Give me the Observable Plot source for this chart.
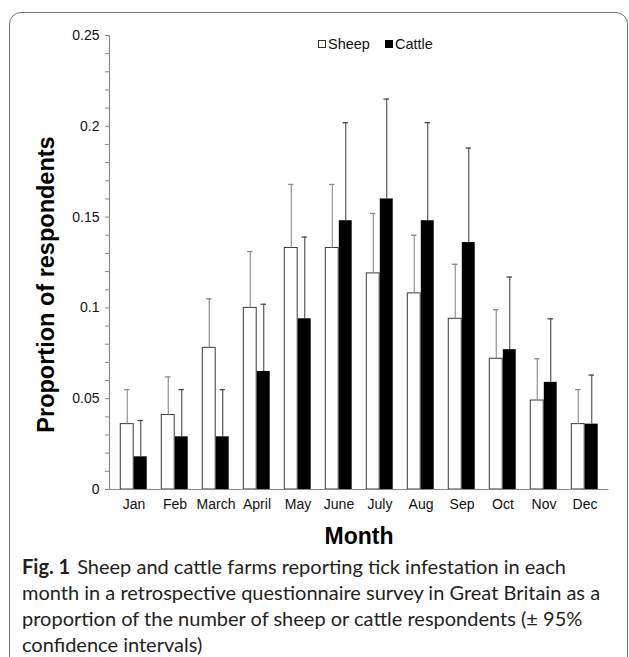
<!DOCTYPE html>
<html>
<head>
<meta charset="utf-8">
<script src="https://cdn.jsdelivr.net/npm/d3@7"></script>
<script src="https://cdn.jsdelivr.net/npm/@observablehq/plot@0.6"></script>
<style>
  html, body { margin: 0; padding: 0; background: #fff; }
  #wrap { position: relative; width: 629px; height: 657px; overflow: hidden; background: #fff; }
  #box { position: absolute; left: 9px; top: 12px; width: 619px; height: 660px; border: 1.3px solid #777; border-radius: 12px; box-sizing: border-box; }
  #chart { position: absolute; left: 0; top: 0; }
  #legend { position: absolute; left: 318px; top: 35px; height: 18px; display: flex; align-items: center; font-family: "Liberation Sans", Arial, sans-serif; font-size: 14.5px; color: #111; }
  #legend .sw { display: inline-block; width: 8px; height: 8px; box-sizing: border-box; margin-right: 2px; }
  #caption { position: absolute; left: 22px; top: 553px; font-family: Lato, "Open Sans", sans-serif; font-size: 20px; line-height: 26px; color: #231f20; white-space: nowrap; }
  #caption b { font-weight: 700; margin-right: 7px; }
</style>
</head>
<body>
<div id="wrap">
  <div id="box"></div>
  <div id="chart"></div>
  <div id="legend"></div>
  <div id="caption"></div>
</div>
<script>
// ---- data ----
const months = ["Jan","Feb","March","April","May","June","July","Aug","Sep","Oct","Nov","Dec"];
const sheep      = [0.036, 0.041, 0.078, 0.100, 0.133, 0.133, 0.119, 0.108, 0.094, 0.072, 0.049, 0.036];
const sheepUpper = [0.055, 0.062, 0.105, 0.131, 0.168, 0.168, 0.152, 0.140, 0.124, 0.099, 0.072, 0.055];
const cattle      = [0.018, 0.029, 0.029, 0.065, 0.094, 0.148, 0.160, 0.148, 0.136, 0.077, 0.059, 0.036];
const cattleUpper = [0.038, 0.055, 0.055, 0.102, 0.139, 0.202, 0.215, 0.202, 0.188, 0.117, 0.094, 0.063];
const yTickLabels = [0, 0.05, 0.1, 0.15, 0.2, 0.25];
const yMinorTicks = d3.range(26).map(i => i / 100);
const seriesNames = ["Sheep", "Cattle"];
const yTitle = "Proportion of respondents";
const xTitle = "Month";
const captionBold = "Fig. 1";
const captionLines = [
  "Sheep and cattle farms reporting tick infestation in each",
  "month in a retrospective questionnaire survey in Great Britain as a",
  "proportion of the number of sheep or cattle respondents (\u00B1 95%",
  "confidence intervals)"
];

const rows = months.map((m, i) => ({
  month: m, sheep: sheep[i], sheepHi: sheepUpper[i], cattle: cattle[i], cattleHi: cattleUpper[i]
}));

// ---- layout ----
const W = 629, H = 550, ML = 109, MR = 21, MT = 35, MB = 61;
const FW = W - ML - MR, FH = H - MT - MB;
const bw = FW / months.length;
const half = bw / 2;
const barW = 13.5;
const capHalf = 3;

const chart = Plot.plot({
  width: W, height: H,
  marginLeft: ML, marginRight: MR, marginTop: MT, marginBottom: MB,
  style: { fontFamily: "'Liberation Sans', Arial, sans-serif", fontSize: "14px", color: "#111", background: "transparent" },
  x: { domain: months, padding: 0, label: null, axis: null },
  y: { domain: [0, 0.25], label: null, axis: null },
  marks: [
    // sheep bars (white) and cattle bars (black)
    Plot.barY(rows, { x: "month", y: "sheep", fill: "white", stroke: "#3a3a3a", strokeWidth: 1,
      insetLeft: half - barW, insetRight: half }),
    Plot.barY(rows, { x: "month", y: "cattle", fill: "black",
      insetLeft: half, insetRight: half - barW }),
    // error bars (upper only)
    Plot.ruleX(rows, { x: "month", y1: "sheep", y2: "sheepHi", dx: -barW / 2, stroke: "#8a8a8a", strokeWidth: 1.1 }),
    Plot.ruleX(rows, { x: "month", y1: "cattle", y2: "cattleHi", dx: barW / 2, stroke: "#4a4a4a", strokeWidth: 1.1 }),
    Plot.tickY(rows, { x: "month", y: "sheepHi", stroke: "#8a8a8a", strokeWidth: 1.3,
      insetLeft: half - barW / 2 - capHalf, insetRight: half + barW / 2 - capHalf }),
    Plot.tickY(rows, { x: "month", y: "cattleHi", stroke: "#4a4a4a", strokeWidth: 1.3,
      insetLeft: half + barW / 2 - capHalf, insetRight: half - barW / 2 - capHalf }),
    // axis lines (left and bottom sides of the frame)
    Plot.frame({ stroke: "#8a8a8a", strokeWidth: 1.2, strokeDasharray: `0 ${FW + FH} ${FW + FH}` }),
    // y axis ticks and labels
    Plot.axisY({ ticks: yMinorTicks, tickSize: 4, tickPadding: 6, stroke: "#8a8a8a",
      tickFormat: d => yTickLabels.includes(d) ? String(d) : "", fontSize: 14 }),
    // x axis labels
    Plot.axisX({ tickSize: 0, tickPadding: 10, fontSize: 14 }),
    // axis titles
    Plot.text([yTitle], { frameAnchor: "left", rotate: -90, dx: 46 - ML, dy: 22,
      textAnchor: "middle", lineAnchor: "middle", fontSize: 23.5, fontWeight: "bold", fill: "#000" }),
    Plot.text([xTitle], { frameAnchor: "bottom", dy: 47, lineAnchor: "middle",
      fontSize: 23, fontWeight: "bold", fill: "#000" })
  ]
});
document.getElementById("chart").appendChild(chart);

// legend
const legend = document.getElementById("legend");
legend.innerHTML =
  `<span class="sw" style="background:#fff;border:1px solid #333"></span><span>${seriesNames[0]}</span>` +
  `<span style="display:inline-block;width:15px"></span>` +
  `<span class="sw" style="background:#000;border:1px solid #000"></span><span>${seriesNames[1]}</span>`;

// caption
document.getElementById("caption").innerHTML =
  `<b>${captionBold}</b>${captionLines[0]}<br>${captionLines.slice(1).join("<br>")}`;
</script>
</body>
</html>
